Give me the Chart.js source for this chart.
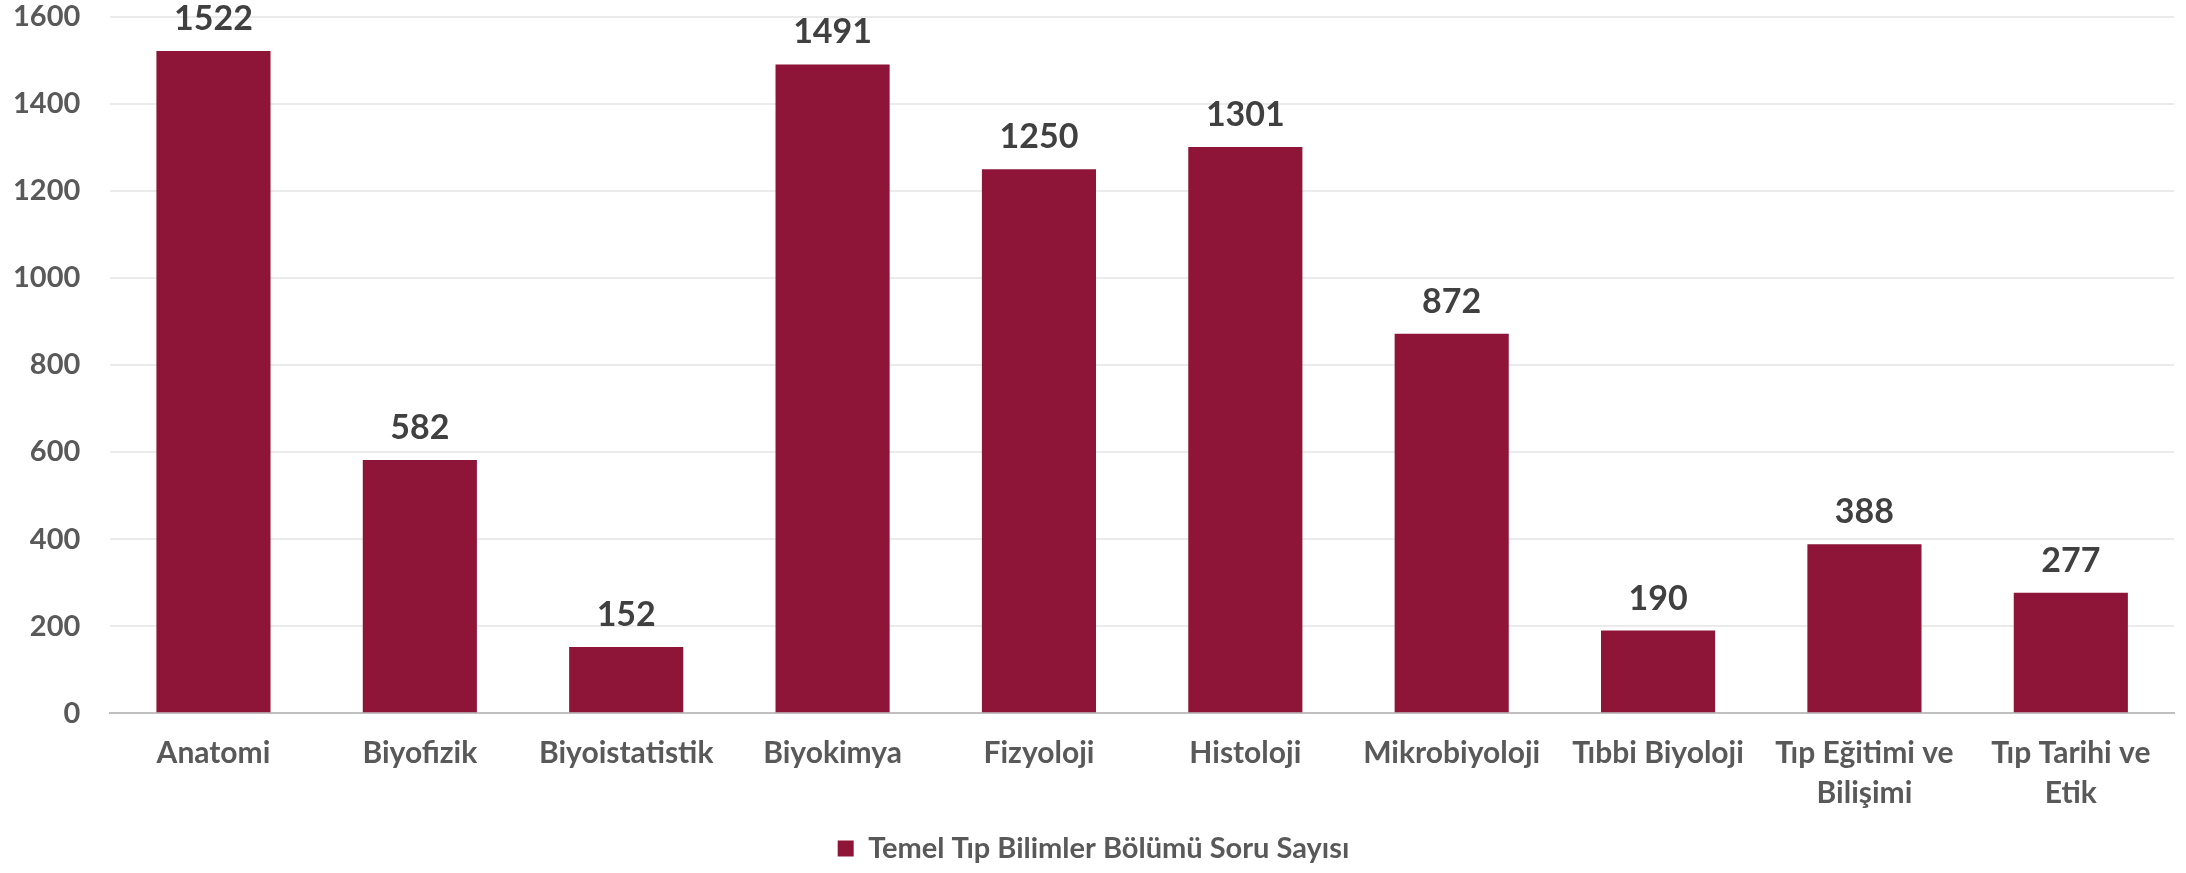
<!DOCTYPE html>
<html>
<head>
<meta charset="utf-8">
<script src="https://cdn.jsdelivr.net/npm/chart.js@4/dist/chart.umd.min.js"></script>
<style>
html,body{margin:0;padding:0;background:#fff;}
#wrap{width:2186px;height:873px;position:relative;}
</style>
</head>
<body>
<div id="wrap"><canvas id="c" width="2186" height="873"></canvas></div>
<script>
const categories = [
  'Anatomi', 'Biyofizik', 'Biyoistatistik', 'Biyokimya', 'Fizyoloji',
  'Histoloji', 'Mikrobiyoloji', 'Tıbbi Biyoloji', ['Tıp Eğitimi ve', 'Bilişimi'], ['Tıp Tarihi ve', 'Etik']
];
const seriesName = 'Temel Tıp Bilimler Bölümü Soru Sayısı';
const values = [1522, 582, 152, 1491, 1250, 1301, 872, 190, 388, 277];
const yMin = 0, yMax = 1600, yStep = 200;

const FONT = 'Lato, "Open Sans", sans-serif';
const barColor = '#8E1538';

const valueLabels = {
  id: 'valueLabels',
  afterDatasetsDraw(chart) {
    const ctx = chart.ctx;
    ctx.save();
    ctx.font = 'bold 34px ' + FONT;
    ctx.fillStyle = '#404040';
    ctx.textAlign = 'center';
    ctx.textBaseline = 'alphabetic';
    chart.getDatasetMeta(0).data.forEach((el, i) => {
      ctx.fillText(String(values[i]), el.x, el.y - 21);
    });
    ctx.restore();
  }
};

new Chart(document.getElementById('c'), {
  type: 'bar',
  data: {
    labels: categories,
    datasets: [{
      label: seriesName,
      data: values,
      backgroundColor: barColor,
      borderWidth: 0,
      barPercentage: 0.553,
      categoryPercentage: 1.0
    }]
  },
  options: {
    responsive: false,
    animation: false,
    devicePixelRatio: 1,
    layout: { padding: { top: 17, right: 12, left: 13, bottom: 0 } },
    plugins: {
      legend: {
        position: 'bottom',
        labels: {
          font: { family: FONT, size: 29, weight: 'bold' },
          color: '#595959',
          boxWidth: 16,
          boxHeight: 16,
          padding: 1
        }
      },
      tooltip: { enabled: false }
    },
    scales: {
      x: {
        grid: { display: false, drawTicks: false },
        border: { display: true, color: '#BFBFBF', width: 2 },
        ticks: {
          font: { family: FONT, size: 30, weight: 'bold', lineHeight: 1.33 },
          color: '#595959',
          padding: 20,
          maxRotation: 0,
          autoSkip: false
        },
        afterFit: (scale) => { scale.paddingLeft = 0; scale.paddingRight = 0; }
      },
      y: {
        min: yMin, max: yMax,
        grid: { color: '#EBEBEB', lineWidth: 2, drawTicks: false },
        border: { display: false },
        ticks: {
          stepSize: yStep,
          font: { family: FONT, size: 29, weight: 'bold' },
          color: '#595959',
          padding: 30,
          callback: (v) => String(v)
        },
        afterFit: (scale) => { scale.paddingTop = 0; scale.paddingBottom = 0; scale.width -= 30; }
      }
    }
  },
  plugins: [valueLabels]
});
</script>
</body>
</html>
